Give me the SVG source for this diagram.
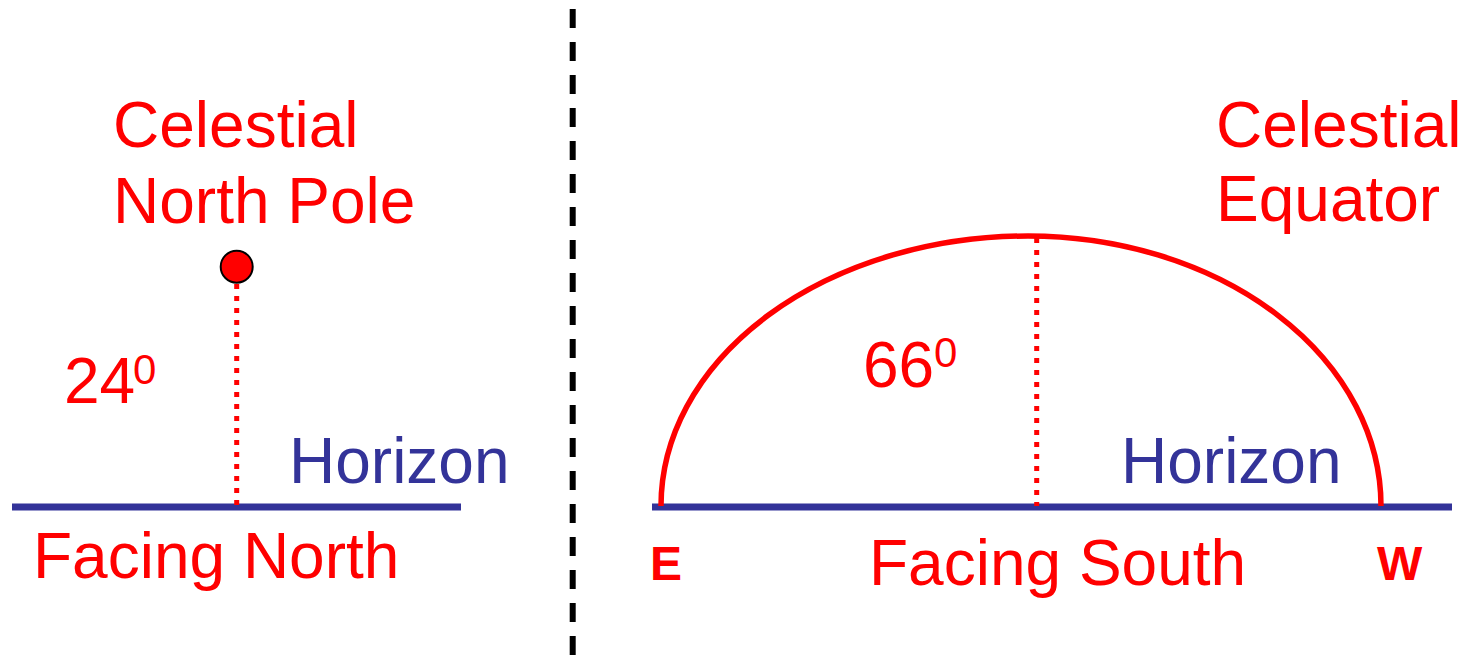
<svg xmlns="http://www.w3.org/2000/svg" width="1472" height="663" viewBox="0 0 1472 663">
<style>
.t{font-family:"Liberation Sans",Arial,sans-serif;font-size:64px;fill:#ff0000}
.h{fill:#333399}
.sup{font-size:42px}
.b{font-weight:bold;font-size:48px}
.hor{stroke:#333399;stroke-width:7;fill:none}
.dot{stroke:#ff0000;stroke-width:5;stroke-dasharray:5 7;fill:none}
</style>
<rect width="1472" height="663" fill="#ffffff"/>
<g id="connectors">
<line id="divider" x1="572.7" y1="9" x2="572.7" y2="663" stroke="#000000" stroke-width="6" stroke-dasharray="19 14"/>
<line id="horizon-left" class="hor" x1="12" y1="507" x2="461" y2="507"/>
<line id="horizon-right" class="hor" x1="652" y1="507" x2="1452" y2="507"/>
<line id="alt-north" class="dot" x1="236.7" y1="284" x2="236.7" y2="506"/>
<line id="alt-south" class="dot" x1="1036.7" y1="238" x2="1036.7" y2="506"/>
<path id="equator-arc" d="M 661 506 A 367 270 0 0 1 1028 236 A 353 270 0 0 1 1381 506" fill="none" stroke="#ff0000" stroke-width="5.5"/>
</g>
<g id="pole">
<circle cx="236.7" cy="266.7" r="16" fill="#ff0000" stroke="#000000" stroke-width="2"/>
<text class="t" x="113" y="147">Celestial</text>
<text class="t" x="113" y="223">North Pole</text>
</g>
<g id="angle-north"><text class="t" x="64" y="403">24<tspan class="sup" x="133" y="384">0</tspan></text></g>
<g id="horizon-north-label"><text class="t h" x="289" y="483">Horizon</text></g>
<g id="facing-north"><text class="t" x="33" y="578">Facing North</text></g>
<g id="equator-label">
<text class="t" x="1216" y="147">Celestial</text>
<text class="t" x="1216" y="221">Equator</text>
</g>
<g id="angle-south"><text class="t" x="863" y="387">66<tspan class="sup" x="934" y="367">0</tspan></text></g>
<g id="horizon-south-label"><text class="t h" x="1121" y="483">Horizon</text></g>
<g id="facing-south"><text class="t" x="869" y="585">Facing South</text></g>
<g id="east"><text class="t b" x="650" y="580">E</text></g>
<g id="west"><text class="t b" x="1377" y="580">W</text></g>
</svg>
